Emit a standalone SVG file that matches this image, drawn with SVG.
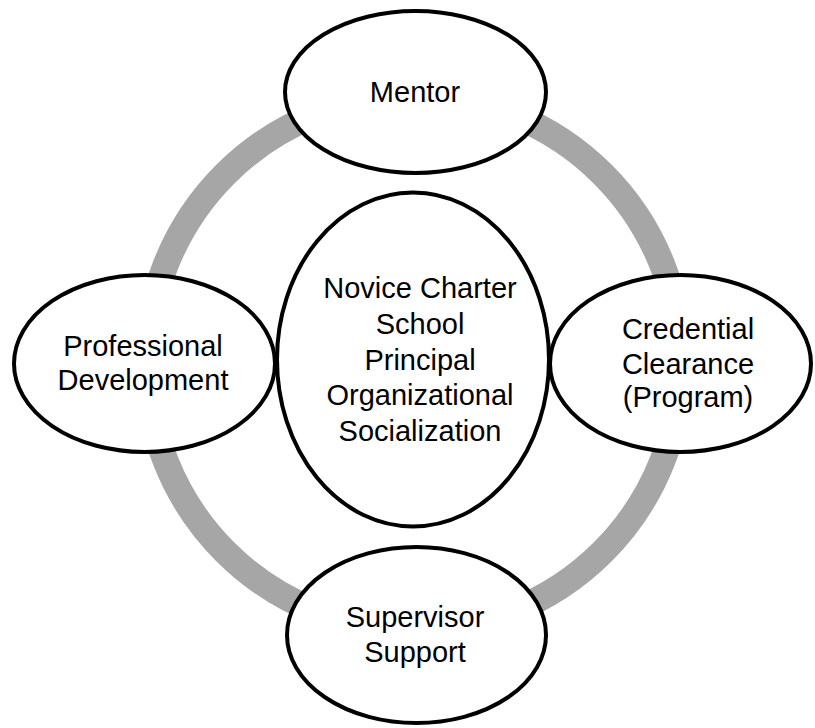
<svg xmlns="http://www.w3.org/2000/svg" width="815" height="728" viewBox="0 0 815 728">
<style>
.node{fill:#ffffff;stroke:#000000;stroke-width:4}
.ring{fill:none;stroke:#a6a6a6;stroke-width:26}
.lbl{font-family:"Liberation Sans",Arial,sans-serif;font-size:29px;fill:#000000;text-anchor:middle}
</style>
<rect width="815" height="728" fill="#ffffff"/>
<g id="connectors">
<circle class="ring" cx="414" cy="363" r="267"/>
</g>
<g id="center">
<ellipse class="node" cx="413" cy="359.5" rx="136" ry="167"/>
<text class="lbl" x="420" y="298">Novice Charter</text>
<text class="lbl" x="420" y="334">School</text>
<text class="lbl" x="420" y="370">Principal</text>
<text class="lbl" x="420" y="405">Organizational</text>
<text class="lbl" x="420" y="441">Socialization</text>
</g>
<g id="mentor">
<ellipse class="node" cx="415.5" cy="92" rx="130.5" ry="81"/>
<text class="lbl" x="415" y="102">Mentor</text>
</g>
<g id="professional-development">
<ellipse class="node" cx="144.5" cy="363.5" rx="130.5" ry="88.5"/>
<text class="lbl" x="143" y="356">Professional</text>
<text class="lbl" x="143" y="390">Development</text>
</g>
<g id="credential-clearance">
<ellipse class="node" cx="680.5" cy="363.5" rx="130.5" ry="88.5"/>
<text class="lbl" x="688" y="339">Credential</text>
<text class="lbl" x="688" y="374">Clearance</text>
<text class="lbl" x="688" y="407">(Program)</text>
</g>
<g id="supervisor-support">
<ellipse class="node" cx="416.5" cy="635" rx="129.5" ry="88"/>
<text class="lbl" x="415" y="627">Supervisor</text>
<text class="lbl" x="415" y="662">Support</text>
</g>
</svg>
